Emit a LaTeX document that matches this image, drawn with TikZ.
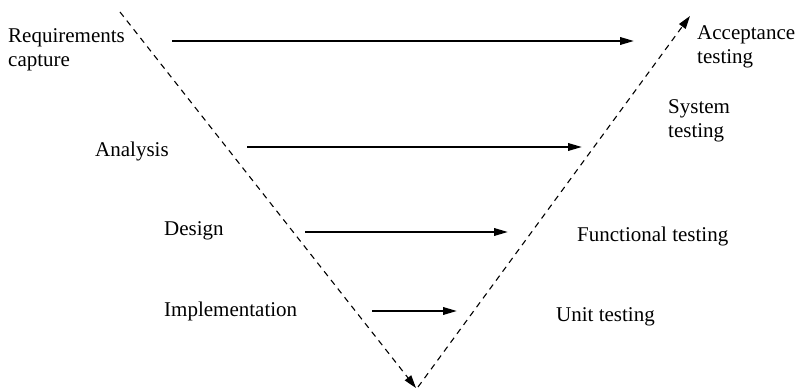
\documentclass[tikz,border=0pt]{standalone}
\usepackage{fontspec}
\setmainfont{Liberation Serif}
\usetikzlibrary{arrows.meta}
\begin{document}
\begin{tikzpicture}[x=1pt,y=-1pt,
  lbl/.style={inner sep=0pt,anchor=base west,align=left,font=\fontsize{21}{24}\selectfont},
  flow/.style={line width=2pt,-{Triangle[length=14pt,width=7.5pt]}},
  vee/.style={line width=1.1pt,dash pattern=on 6pt off 5pt,-{Triangle[length=13pt,width=8pt]}}]
\useasboundingbox (0,0) rectangle (806,390);
% text
\node[lbl] (req) at (8,43) {Requirements};
\node[lbl] (cap) at (8,67) {capture};
\node[lbl] (ana) at (95,157) {Analysis};
\node[lbl] (des) at (164,236) {Design};
\node[lbl] (imp) at (164,316) {Implementation};
\node[lbl] (acc) at (697,40) {Acceptance};
\node[lbl] (acct) at (697,64) {testing};
\node[lbl] (sys) at (668,114) {System};
\node[lbl] (syst) at (668,138) {testing};
\node[lbl] (fun) at (577,241) {Functional testing};
\node[lbl] (uni) at (556,321) {Unit testing};
% V lines
\coordinate (ltop) at (120,12);
\coordinate (lbot) at (416,388);
\coordinate (rbot) at (418,387);
\coordinate (rtop) at (690,16);
\draw[vee] (ltop) -- (lbot);
\draw[vee] (rbot) -- (rtop);
% horizontal arrows
\coordinate (a1) at (172,41); \coordinate (b1) at (634,41);
\coordinate (a2) at (247,147); \coordinate (b2) at (582,147);
\coordinate (a3) at (305,232); \coordinate (b3) at (508,232);
\coordinate (a4) at (372,311); \coordinate (b4) at (457,311);
\draw[flow] (a1) -- (b1);
\draw[flow] (a2) -- (b2);
\draw[flow] (a3) -- (b3);
\draw[flow] (a4) -- (b4);
\end{tikzpicture}
\end{document}
